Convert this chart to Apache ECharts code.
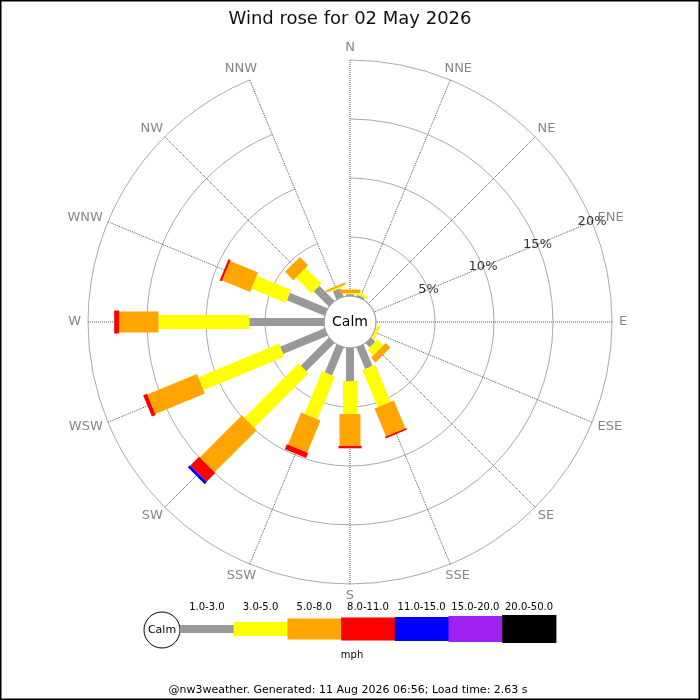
<!DOCTYPE html>
<html>
<head>
<meta charset="utf-8">
<script src="https://cdn.jsdelivr.net/npm/echarts@6/dist/echarts.min.js"></script>
<style>
  body { margin: 0; background: #fff; }
  #chart { width: 700px; height: 700px; }
</style>
</head>
<body>
<div id="chart"></div>
<script>
// compass points, clockwise from north
var dirs = ['N', 'NNE', 'NE', 'ENE', 'E', 'ESE', 'SE', 'SSE', 'S', 'SSW', 'SW', 'WSW', 'W', 'WNW', 'NW', 'NNW'];
// speed bins (mph)
var bins = ['1.0-3.0', '3.0-5.0', '5.0-8.0', '8.0-11.0', '11.0-15.0', '15.0-20.0', '20.0-50.0'];
// % of time per direction, one array per bin
var bin1 = [0.15, 0.15, 0, 0, 0, 0.05, 0.5, 1.97, 2.8, 2.57, 3.37, 4.07, 6.33, 3.45, 1.8, 0.76];
var bin2 = [0.1, 0.2, 0, 0, 0, 0.25, 0.7, 3.4, 2.8, 3.9, 6.5, 7.4, 7.7, 3.15, 1.9, 0.13];
var bin3 = [0.3, 0, 0, 0, 0, 0, 0.55, 2.55, 2.7, 2.95, 5.05, 4.55, 3.33, 2.55, 1.0, 0.17];
var bin4 = [0, 0, 0, 0, 0, 0, 0, 0.15, 0.2, 0.45, 1.05, 0.35, 0.42, 0.2, 0, 0];
var bin5 = [0, 0, 0, 0, 0, 0, 0, 0, 0, 0, 0.25, 0, 0, 0, 0, 0];
var bin6 = [0, 0, 0, 0, 0, 0, 0, 0, 0, 0, 0, 0, 0, 0, 0, 0];
var bin7 = [0, 0, 0, 0, 0, 0, 0, 0, 0, 0, 0, 0, 0, 0, 0, 0];
var radTicks = [5, 10, 15, 20];

// styles
var binColors = ['#999999', '#ffff00', '#ffa500', '#ff0000', '#0000ff', '#a020f0', '#000000'];
var binWidths = [8, 14, 21, 23, 24, 26, 28];
var dirFont = '13px "DejaVu Sans"';

var binValues = [bin1, bin2, bin3, bin4, bin5, bin6, bin7];
var chart = echarts.init(document.getElementById('chart'));

// stack the bins: each item is [dirIndex, start, end]
var cum = dirs.map(function () { return 0; });
var series = binValues.map(function (vals, b) {
  var data = vals.map(function (v, i) {
    var s = cum[i];
    cum[i] += v;
    return [i, s, s + v];
  });
  return {
    type: 'custom',
    name: bins[b],
    coordinateSystem: 'polar',
    encode: { angle: 0, radius: [1, 2] },
    silent: true,
    data: data,
    renderItem: function (params, api) {
      var a = api.value(0), r0 = api.value(1), r1 = api.value(2);
      if (r1 - r0 <= 0) return null;
      var p0 = api.coord([r0, a]);
      var p1 = api.coord([r1, a]);
      return {
        type: 'line',
        shape: { x1: p0[0], y1: p0[1], x2: p1[0], y2: p1[1] },
        style: { stroke: binColors[b], lineWidth: binWidths[b], lineCap: 'butt' }
      };
    }
  };
});

// percentage labels along the ENE spoke
series.push({
  type: 'scatter',
  coordinateSystem: 'polar',
  symbolSize: 0,
  silent: true,
  z: 5,
  data: radTicks.map(function (v) { return [v, dirs.indexOf('ENE')]; }),
  label: {
    show: true,
    position: 'inside',
    color: '#000',
    fontSize: 13,
    fontFamily: 'DejaVu Sans',
    formatter: function (p) { return p.value[0] + '%'; }
  }
});

// compass labels: box edge touches a point just outside the rim
var ctx = document.createElement('canvas').getContext('2d');
ctx.font = dirFont;
series.push({
  type: 'scatter',
  coordinateSystem: 'polar',
  symbolSize: 0,
  silent: true,
  z: 5,
  data: dirs.map(function (d, i) {
    var ang = Math.PI / 2 - i * Math.PI / 8;
    var hw = ctx.measureText(d).width / 2, hh = 5;
    return {
      value: [20, i],
      label: { offset: [Math.cos(ang) * (7 + hw), -Math.sin(ang) * (7 + hh)] }
    };
  }),
  label: {
    show: true,
    position: 'inside',
    color: '#666',
    fontSize: 13,
    fontFamily: 'DejaVu Sans',
    formatter: function (p) { return dirs[p.value[1]]; }
  }
});

// legend along the bottom
var legend = [];
var lx = 180, lw = 53.7, ly = 629;
legend.push({
  type: 'circle', shape: { cx: 162, cy: ly + 1, r: 18 },
  style: { fill: '#fff', stroke: '#000', lineWidth: 1 }
});
legend.push({
  type: 'text', x: 162, y: ly + 1,
  style: { text: 'Calm', fontSize: 11, fontFamily: 'DejaVu Sans', fill: '#000', align: 'center', verticalAlign: 'middle' }
});
bins.forEach(function (name, b) {
  legend.push({
    type: 'rect',
    shape: { x: lx + b * lw, y: ly - binWidths[b] / 2, width: lw + 0.5, height: binWidths[b] },
    style: { fill: binColors[b] }
  });
  legend.push({
    type: 'text', x: lx + b * lw + lw / 2, y: 607,
    style: { text: name, fontSize: 10, fontFamily: 'DejaVu Sans', fill: '#000', align: 'center', verticalAlign: 'middle' }
  });
});
legend.push({
  type: 'text', x: 352, y: 655,
  style: { text: 'mph', fontSize: 10, fontFamily: 'DejaVu Sans', fill: '#000', align: 'center', verticalAlign: 'middle' }
});

var option = {
  backgroundColor: '#fff',
  animation: false,
  title: {
    text: 'Wind rose for 02 May 2026',
    left: 'center',
    top: 5,
    textStyle: { fontFamily: 'DejaVu Sans', fontSize: 18, fontWeight: 'normal', color: '#111' }
  },
  polar: { center: [350, 322], radius: [26, 262] },
  angleAxis: {
    type: 'category',
    data: dirs,
    startAngle: 90,
    clockwise: true,
    boundaryGap: false,
    axisLine: { show: false },
    axisTick: { show: false },
    axisLabel: { show: false },
    splitLine: { show: true, lineStyle: { color: '#555', type: 'dotted', width: 1 } }
  },
  radiusAxis: {
    type: 'value',
    min: 0,
    max: 20,
    interval: 5,
    axisLine: { show: false },
    axisTick: { show: false },
    axisLabel: { show: false },
    splitLine: { show: true, lineStyle: { color: '#aaa', width: 1 } }
  },
  graphic: [
    {
      type: 'group', z: 100,
      children: [
        { type: 'circle', shape: { cx: 350, cy: 322, r: 26 }, style: { fill: '#fff', stroke: '#999', lineWidth: 1 } },
        { type: 'text', x: 350, y: 322, style: { text: 'Calm', fontSize: 14, fontFamily: 'DejaVu Sans', fill: '#000', align: 'center', verticalAlign: 'middle' } }
      ]
    },
    { type: 'group', children: legend },
    {
      type: 'text', x: 348, y: 690,
      style: { text: '@nw3weather. Generated: 11 Aug 2026 06:56; Load time: 2.63 s', fontSize: 11, fontFamily: 'DejaVu Sans', fill: '#000', align: 'center', verticalAlign: 'middle' }
    },
    {
      type: 'rect', z: 200, silent: true,
      shape: { x: 0, y: 0, width: 700, height: 700 },
      style: { fill: 'none', stroke: '#000', lineWidth: 3 }
    }
  ],
  series: series
};
chart.setOption(option);
</script>
</body>
</html>
